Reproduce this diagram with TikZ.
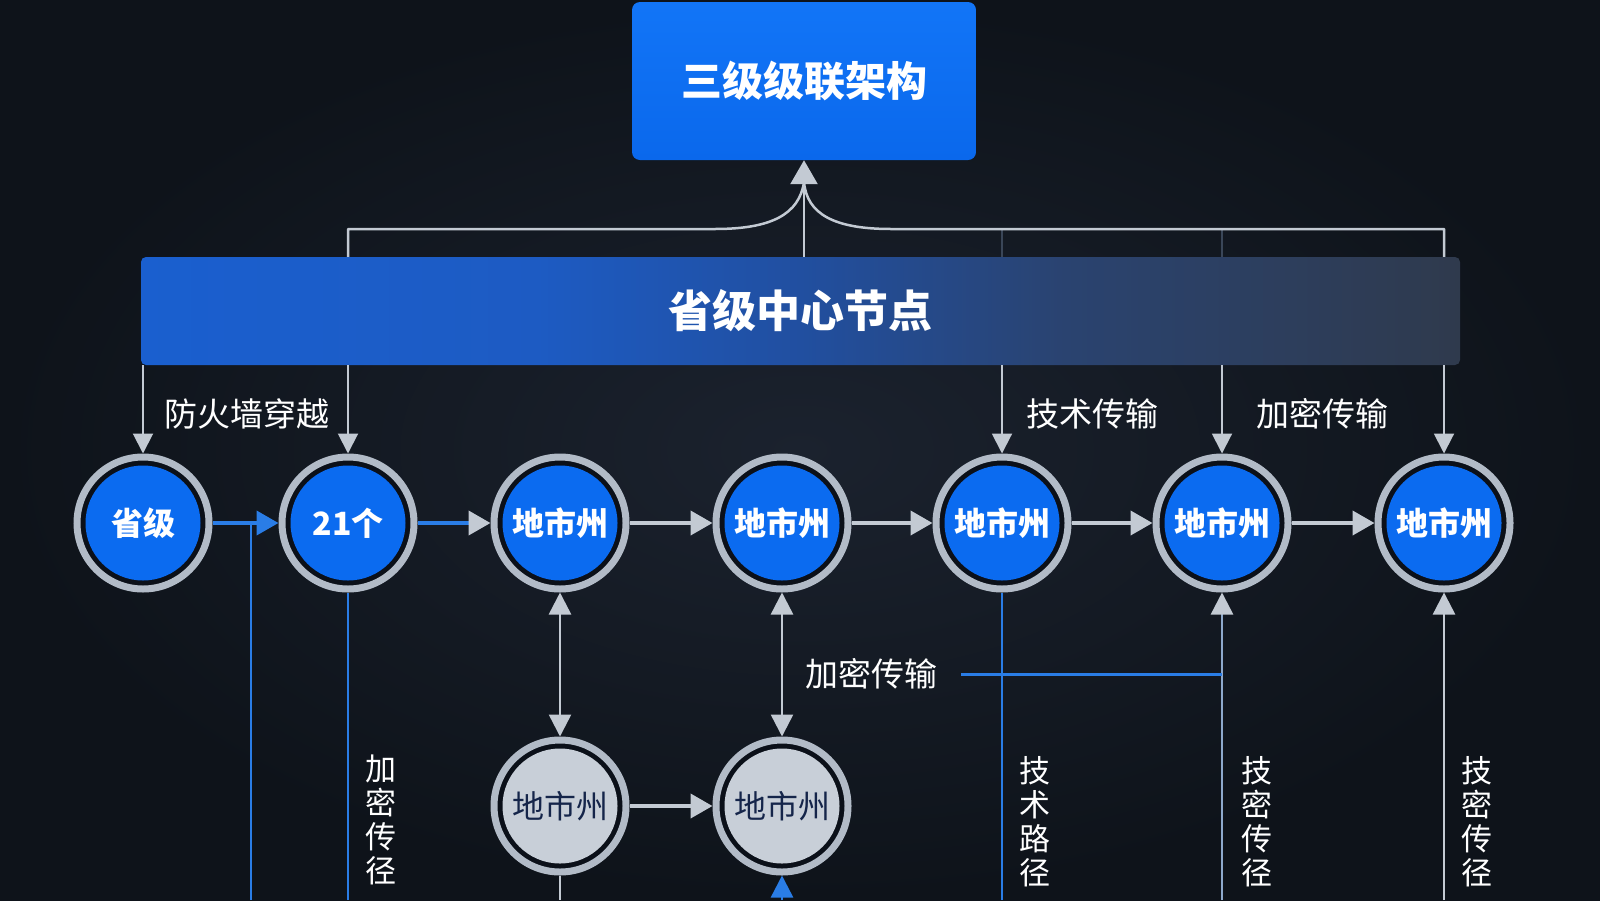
\documentclass[tikz,border=0pt]{standalone}
\usepackage{fontspec}
\setmainfont{Noto Sans CJK SC}
\usetikzlibrary{arrows.meta,calc}
\definecolor{bgin}{HTML}{1B222E}
\definecolor{bgout}{HTML}{0E131A}
\definecolor{toptop}{HTML}{1275F7}
\definecolor{topbot}{HTML}{0A68EC}
\definecolor{nodeblue}{HTML}{0B6BF0}
\definecolor{ringgray}{HTML}{B2BBC7}
\definecolor{ringdark}{HTML}{0B1019}
\definecolor{arrgray}{HTML}{C3CAD3}
\definecolor{lineblue}{HTML}{2A7DE6}
\definecolor{softblue}{HTML}{8EA9CC}
\definecolor{pale}{HTML}{C8CFD8}
\definecolor{darktext}{HTML}{15254A}
\definecolor{thindark}{HTML}{3A4658}
\definecolor{ca}{HTML}{1A5FCF}
\definecolor{cb}{HTML}{1D5BC3}
\definecolor{cc}{HTML}{214FA0}
\definecolor{cd}{HTML}{2A4370}
\definecolor{ce}{HTML}{2F3A4D}
\pgfdeclarehorizontalshading{barshade}{100bp}{color(0bp)=(ca);color(25bp)=(ca);color(40bp)=(cb);color(50bp)=(cc);color(60bp)=(cd);color(75bp)=(ce);color(100bp)=(ce)}
\begin{document}
\begin{tikzpicture}[x=1pt,y=-1pt,
  topbox/.style={rectangle,rounded corners=8pt,minimum width=344pt,minimum height=158pt,
    top color=toptop,bottom color=topbot,text=white,font=\fontsize{41}{44}\selectfont\bfseries},
  barbox/.style={rectangle,rounded corners=5pt,minimum width=1319pt,minimum height=108pt,
    shading=barshade,text=white,font=\fontsize{44}{46}\selectfont\bfseries},
  cnode/.style={circle,inner sep=0pt,minimum size=132pt,draw=ringgray,line width=7pt,fill=ringdark,
    path picture={\fill[nodeblue] (path picture bounding box.center) circle (57.5pt);},
    text=white,font=\fontsize{32}{34}\selectfont\bfseries},
  gnode/.style={circle,inner sep=0pt,minimum size=132pt,draw=ringgray,line width=7pt,fill=ringdark,
    path picture={\fill[pale] (path picture bounding box.center) circle (57.5pt);},
    text=darktext,font=\fontsize{32}{34}\selectfont},
  lbl/.style={text=white,font=\fontsize{33}{36}\selectfont},
  vlbl/.style={text=white,align=center,font=\fontsize{31}{34}\selectfont},
  mline/.style={draw=arrgray,line width=2.5pt},
  downarrow/.style={draw=arrgray,line width=2pt,-{Triangle[length=20pt,width=20pt,color=arrgray]}},
  harrow/.style={draw=arrgray,line width=4pt,-{Triangle[length=22pt,width=24pt,color=arrgray]}},
  dblarrow/.style={draw=arrgray,line width=2.5pt,{Triangle[length=22pt,width=22pt,color=arrgray]}-{Triangle[length=22pt,width=22pt,color=arrgray]}},
  bline/.style={draw=lineblue,line width=2.5pt},
  gline/.style={draw=arrgray,line width=2.5pt}
]
\useasboundingbox (0,0) rectangle (1600,900);
\shade[inner color=bgin,outer color=bgout] (0,0) rectangle (1600,900);
\coordinate (bot) at (0,900);

% top and bar
\node[topbox] (top) at (804,81) {三级级联架构};
\node[barbox] (bar) at (800.5,311) {省级中心节点};

% circles
\node[cnode] (c1) at (143,523) {省级};
\node[cnode] (c2) at (348,523) {21个};
\node[cnode] (c3) at (560,523) {地市州};
\node[cnode] (c4) at (782,523) {地市州};
\node[cnode] (c5) at (1002,523) {地市州};
\node[cnode] (c6) at (1222,523) {地市州};
\node[cnode] (c7) at (1444,523) {地市州};
\node[gnode] (g1) at (560,806) {地市州};
\node[gnode] (g2) at (782,806) {地市州};

% merge into top
\coordinate (mL) at (348,229);
\coordinate (mR) at (1444,229);
\coordinate (tb) at ($(top.south)+(0,22)$);
\draw[thindark,line width=1.5pt] (bar.north -| c5) -- (c5 |- mL);
\draw[thindark,line width=1.5pt] (bar.north -| c6) -- (c6 |- mL);
\draw[mline,line join=round] (bar.north -| mL) -- (mL) -- (715,229) .. controls (772,229) and (799,214) .. (tb);
\draw[mline,line join=round] (bar.north -| mR) -- (mR) -- (891,229) .. controls (834,229) and (807,214) .. (tb);
\draw[mline,-{Triangle[length=24pt,width=27pt,color=arrgray]}] (bar.north -| top.south) -- (top.south);

% bar down arrows
\foreach \c in {c1,c2,c5,c6,c7}{
  \draw[downarrow] (bar.south -| \c.north) -- (\c.north);
}
\node[lbl] (l1) at (247,414) {防火墙穿越};
\node[lbl] (l2) at (1092,414) {技术传输};
\node[lbl] (l3) at (1322,414) {加密传输};

% row arrows
\draw[draw=lineblue,line width=4pt,-{Triangle[length=22pt,width=24pt,color=lineblue]}] (c1.east) -- (c2.west);
\draw[draw=lineblue,line width=4pt,-{Triangle[length=22pt,width=24pt,color=arrgray]}] (c2.east) -- (c3.west);
\draw[harrow] (c3.east) -- (c4.west);
\draw[harrow] (c4.east) -- (c5.west);
\draw[harrow] (c5.east) -- (c6.west);
\draw[harrow] (c6.east) -- (c7.west);

% vertical links
\draw[dblarrow] (c3.south) -- (g1.north);
\draw[dblarrow] (c4.south) -- (g2.north);
\draw[harrow] (g1.east) -- (g2.west);
\draw[gline] (g1.south) -- (g1 |- bot);
\draw[draw=lineblue,line width=2.5pt,-{Triangle[length=22pt,width=22pt,color=lineblue]}] (g2 |- bot) -- (g2.south);

\coordinate (j1) at (251,523);
\draw[bline] (j1) -- (j1 |- bot);
\draw[bline] (c2.south) -- (c2 |- bot);
\draw[bline] (c5.south) -- (c5 |- bot);
\draw[draw=softblue,line width=2.5pt,-{Triangle[length=22pt,width=22pt,color=arrgray]}] (c6 |- bot) -- (c6.south);
\draw[gline,-{Triangle[length=22pt,width=22pt,color=arrgray]}] (c7 |- bot) -- (c7.south);

\coordinate (h1) at (961,674);
\draw[draw=lineblue,line width=3pt] (h1) -- (h1 -| c6);
\node[lbl] (l4) at (871,674) {加密传输};

\node[vlbl] (v1) at (381,820) {加\\密\\传\\径};
\node[vlbl] (v2) at (1035,822) {技\\术\\路\\径};
\node[vlbl] (v3) at (1257,822) {技\\密\\传\\径};
\node[vlbl] (v4) at (1477,822) {技\\密\\传\\径};
\end{tikzpicture}
\end{document}
